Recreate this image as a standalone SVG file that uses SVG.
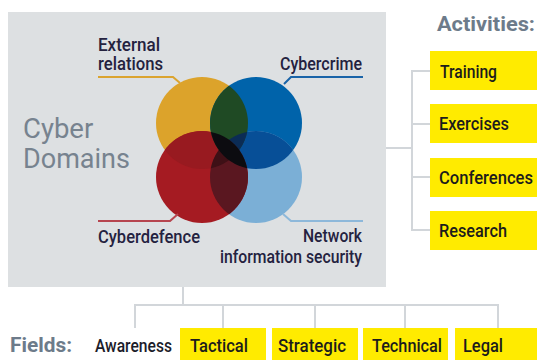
<svg xmlns="http://www.w3.org/2000/svg" width="537" height="360" viewBox="0 0 537 360">
<style>
.lbl{font-family:Roboto,"Liberation Sans",sans-serif;font-weight:500;font-size:17.5px;fill:#24223f}
.box{fill:#ffeb00}
.bt{font-family:Roboto,"Liberation Sans",sans-serif;font-weight:500;font-size:17.5px;fill:#1c1c1c}
.hd{font-family:Roboto,"Liberation Sans",sans-serif;font-weight:700;font-size:20px;fill:#6d7b8a}
.conn{fill:none;stroke:#d2d6da;stroke-width:2}
.lead{fill:none;stroke-width:2}
</style>
<defs>
<clipPath id="cY"><circle cx="202" cy="123" r="46"/></clipPath>
<clipPath id="cB"><circle cx="256" cy="123" r="46"/></clipPath>
<clipPath id="cR"><circle cx="202" cy="177" r="46"/></clipPath>
<clipPath id="cL"><circle cx="256" cy="177" r="46"/></clipPath>
</defs>
<rect width="537" height="360" fill="#ffffff"/>
<g id="panel">
<rect x="8" y="12" width="378" height="275" fill="#dde0e2"/>
<text x="23" y="138" font-family="Roboto,'Liberation Sans',sans-serif" font-size="27.5" fill="#77838f">Cyber</text>
<text x="23" y="168" font-family="Roboto,'Liberation Sans',sans-serif" font-size="27.5" fill="#77838f" textLength="107" lengthAdjust="spacingAndGlyphs">Domains</text>
</g>
<g id="venn">
<circle cx="202" cy="123" r="46" fill="#dca32b"/>
<circle cx="256" cy="123" r="46" fill="#0063aa"/>
<circle cx="256" cy="177" r="46" fill="#7bafd6"/>
<circle cx="202" cy="177" r="46" fill="#a51b22"/>
<g clip-path="url(#cY)"><circle cx="202" cy="177" r="46" fill="#981a20"/></g>
<g clip-path="url(#cB)"><circle cx="256" cy="177" r="46" fill="#074f97"/></g>
<g clip-path="url(#cY)"><circle cx="256" cy="123" r="46" fill="#1f4a24"/></g>
<g clip-path="url(#cR)"><circle cx="256" cy="177" r="46" fill="#5a1720"/></g>
<g clip-path="url(#cY)"><g clip-path="url(#cB)"><circle cx="256" cy="177" r="46" fill="#0b2c55"/></g></g>
<g clip-path="url(#cY)"><g clip-path="url(#cR)"><circle cx="256" cy="177" r="46" fill="#3e1016"/></g></g>
<g clip-path="url(#cB)"><circle cx="202" cy="177" r="46" fill="#0c0c10"/></g>
</g>
<g id="leaders">
<polyline class="lead" stroke="#dba42f" points="98,77 173,77 180,83"/>
<polyline class="lead" stroke="#1a64a8" points="363,77 291,77 284,84"/>
<polyline class="lead" stroke="#b6454f" points="98,221 170,221 178,214"/>
<polyline class="lead" stroke="#8db8da" points="363,221 291,221 283,214"/>
</g>
<g id="label-external">
<text class="lbl" x="98" y="51" textLength="62" lengthAdjust="spacingAndGlyphs">External</text>
<text class="lbl" x="98" y="70" textLength="65" lengthAdjust="spacingAndGlyphs">relations</text>
</g>
<g id="label-cybercrime">
<text class="lbl" x="280" y="70" textLength="82" lengthAdjust="spacingAndGlyphs">Cybercrime</text>
</g>
<g id="label-cyberdefence">
<text class="lbl" x="98" y="243" textLength="102" lengthAdjust="spacingAndGlyphs">Cyberdefence</text>
</g>
<g id="label-nis">
<text class="lbl" x="303" y="242" textLength="59" lengthAdjust="spacingAndGlyphs">Network</text>
<text class="lbl" x="220" y="263" textLength="142" lengthAdjust="spacingAndGlyphs">information security</text>
</g>
<g id="connectors">
<polyline class="conn" points="386,148 412,148"/>
<polyline class="conn" points="430,71 412,71 412,230 430,230"/>
<polyline class="conn" points="412,124 430,124"/>
<polyline class="conn" points="412,177 430,177"/>
<polyline class="conn" points="183,287 183,305"/>
<polyline class="conn" points="135,328 135,305 498,305 498,328"/>
<polyline class="conn" points="223,305 223,328"/>
<polyline class="conn" points="315,305 315,328"/>
<polyline class="conn" points="405,305 405,328"/>
</g>
<g id="activities-title">
<text class="hd" x="437" y="31" textLength="98" lengthAdjust="spacingAndGlyphs">Activities:</text>
</g>
<g id="act-training"><rect class="box" x="430" y="51" width="107" height="39"/><text class="bt" x="440" y="78" textLength="57" lengthAdjust="spacingAndGlyphs">Training</text></g>
<g id="act-exercises"><rect class="box" x="430" y="104" width="107" height="39"/><text class="bt" x="439" y="130" textLength="70" lengthAdjust="spacingAndGlyphs">Exercises</text></g>
<g id="act-conferences"><rect class="box" x="430" y="158" width="107" height="39"/><text class="bt" x="439" y="184" textLength="94" lengthAdjust="spacingAndGlyphs">Conferences</text></g>
<g id="act-research"><rect class="box" x="430" y="211" width="107" height="39"/><text class="bt" x="439" y="237" textLength="68" lengthAdjust="spacingAndGlyphs">Research</text></g>
<g id="fields-title">
<text class="hd" x="10" y="352" textLength="62" lengthAdjust="spacingAndGlyphs">Fields:</text>
</g>
<g id="field-awareness"><text class="lbl" x="95" y="352" textLength="77" lengthAdjust="spacingAndGlyphs" style="fill:#1c1c2a">Awareness</text></g>
<g id="field-tactical"><rect class="box" x="180" y="328" width="86" height="32"/><text class="bt" x="190" y="352" textLength="58" lengthAdjust="spacingAndGlyphs">Tactical</text></g>
<g id="field-strategic"><rect class="box" x="272" y="328" width="86" height="32"/><text class="bt" x="278" y="352" textLength="68" lengthAdjust="spacingAndGlyphs">Strategic</text></g>
<g id="field-technical"><rect class="box" x="363" y="328" width="85" height="32"/><text class="bt" x="372" y="352" textLength="70" lengthAdjust="spacingAndGlyphs">Technical</text></g>
<g id="field-legal"><rect class="box" x="455" y="328" width="82" height="32"/><text class="bt" x="463" y="352" textLength="40" lengthAdjust="spacingAndGlyphs">Legal</text></g>
</svg>
